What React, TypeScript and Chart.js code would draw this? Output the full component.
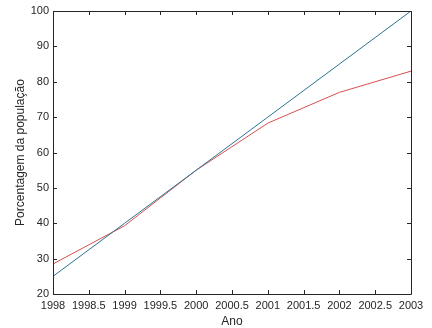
import React, { useEffect, useRef } from "react";
import { Chart, registerables } from "chart.js";

Chart.register(...registerables);

const years = [1998, 1999, 2000, 2001, 2002, 2003];
const blueValues = [25, 40, 55, 70, 85, 100];
const redValues = [28.5, 39.3, 55, 68.3, 77, 83];
const xTitle = "Ano";
const yTitle = "Porcentagem da população";

const AXIS_COLOR = "#262626";
const FONT = "'Liberation Sans', Arial, Helvetica, sans-serif";

const boxTicksPlugin = {
  id: "boxTicks",
  afterDatasetsDraw(chart: any) {
    const { ctx, chartArea } = chart;
    const { left, right, top, bottom } = chartArea;
    const xs = chart.scales.x;
    const ys = chart.scales.y;
    const len = 4;
    ctx.save();
    ctx.strokeStyle = AXIS_COLOR;
    ctx.lineWidth = 1;
    ctx.beginPath();
    ctx.rect(Math.round(left) + 0.5, Math.round(top) + 0.5, Math.round(right - left), Math.round(bottom - top));
    xs.ticks.forEach((t: any) => {
      const px = Math.round(xs.getPixelForValue(t.value)) + 0.5;
      ctx.moveTo(px, bottom);
      ctx.lineTo(px, bottom - len);
      ctx.moveTo(px, top);
      ctx.lineTo(px, top + len);
    });
    ys.ticks.forEach((t: any) => {
      const py = Math.round(ys.getPixelForValue(t.value)) + 0.5;
      ctx.moveTo(left, py);
      ctx.lineTo(left + len, py);
      ctx.moveTo(right, py);
      ctx.lineTo(right - len, py);
    });
    ctx.stroke();
    ctx.restore();
  },
};

export default function App() {
  const canvasRef = useRef<HTMLCanvasElement | null>(null);

  useEffect(() => {
    if (!canvasRef.current) return;
    const chart = new Chart(canvasRef.current, {
      type: "line",
      data: {
        datasets: [
          {
            data: years.map((x, i) => ({ x, y: blueValues[i] })),
            borderColor: "#2a7391",
            borderWidth: 1,
            pointRadius: 0,
            tension: 0,
          },
          {
            data: years.map((x, i) => ({ x, y: redValues[i] })),
            borderColor: "#d6504f",
            borderWidth: 1,
            pointRadius: 0,
            tension: 0,
          },
        ],
      },
      options: {
        animation: false,
        responsive: false,
        maintainAspectRatio: false,
        layout: { padding: { top: 11, right: 21, left: 0, bottom: 0 } },
        plugins: {
          legend: { display: false },
          tooltip: { enabled: false },
        },
        scales: {
          x: {
            type: "linear",
            min: 1998,
            max: 2003,
            border: { display: false },
            grid: { display: false, drawTicks: false },
            ticks: {
              stepSize: 0.5,
              padding: 5,
              color: AXIS_COLOR,
              font: { family: FONT, size: 11 },
              maxRotation: 0,
              autoSkip: false,
              callback: (v: any) => String(v),
            },
            title: {
              display: true,
              text: xTitle,
              color: AXIS_COLOR,
              font: { family: FONT, size: 12, lineHeight: 1 },
              padding: 0,
            },
            afterFit: (s: any) => {
              s.height = 34;
            },
          },
          y: {
            min: 20,
            max: 100,
            border: { display: false },
            grid: { display: false, drawTicks: false },
            ticks: {
              stepSize: 10,
              padding: 4,
              color: AXIS_COLOR,
              font: { family: FONT, size: 11 },
            },
            title: {
              display: true,
              text: yTitle,
              color: AXIS_COLOR,
              font: { family: FONT, size: 12, lineHeight: 1 },
              padding: { top: 15, bottom: 0 },
            },
            afterFit: (s: any) => {
              s.width = 53;
            },
          },
        },
      },
      plugins: [boxTicksPlugin],
    } as any);
    return () => chart.destroy();
  }, []);

  return (
    <div style={{ position: "fixed", left: 0, top: 0, width: 432, height: 328, background: "#fff" }}>
      <canvas ref={canvasRef} width={432} height={328} style={{ width: 432, height: 328, display: "block" }} />
    </div>
  );
}
